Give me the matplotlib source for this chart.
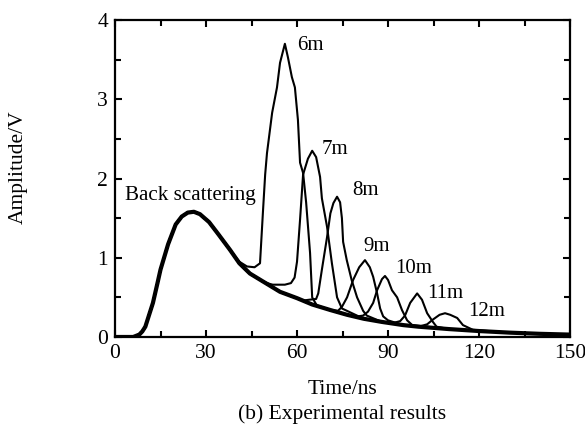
import numpy as np
import matplotlib.pyplot as plt
from matplotlib.ticker import MultipleLocator

plt.rcParams['font.family'] = ['Liberation Serif', 'DejaVu Serif']
plt.rcParams['mathtext.fontset'] = 'stix'

# curva de retrodispersion (comun a todas las trazas)
bg_t = [0, 6, 8, 9, 10, 11, 12.5, 14, 15, 17.5, 20, 22, 24, 26, 28, 31, 34, 37.9, 41, 44.5,
        48.8, 54.4, 60, 65, 71, 76.5, 82, 88, 95, 100, 110, 120, 130, 140, 150]
bg_v = [0, 0, 0.03, 0.07, 0.13, 0.25, 0.43, 0.68, 0.85, 1.17, 1.42, 1.52, 1.57, 1.58, 1.55,
        1.45, 1.30, 1.10, 0.93, 0.80, 0.70, 0.57, 0.49, 0.41, 0.34, 0.28, 0.23, 0.19, 0.15,
        0.13, 0.10, 0.075, 0.055, 0.04, 0.03]

# tramo de cada pico (distancia del blanco)
etiquetas = ['6m', '7m', '8m', '9m', '10m', '11m', '12m']
picos_t = [
    [41, 43.5, 46, 47.8, 48.8, 49.5, 50.1, 51.8, 53.4, 54.4, 56.0, 57.0, 58.3, 59.3, 60.3,
     61.0, 62.0, 63.0, 64.3, 65.0, 66.5],
    [51, 52, 56, 58, 59.2, 60, 61, 62, 63.6, 65.0, 66.3, 67.6, 68.2, 69.9, 71.5, 73.2, 74.8],
    [62, 64, 66.3, 67, 68.2, 69.9, 71, 72, 73.2, 74.2, 74.8, 75.2, 76.4, 78, 79.8, 81.8, 83],
    [73.5, 74.8, 76.5, 78.5, 80.5, 82.4, 84, 85.1, 86.4, 87.4, 88.4, 90],
    [80, 81.8, 83.4, 85.1, 86.4, 88, 89, 90, 91.3, 93, 94.6, 96.3, 98],
    [92, 94, 95.6, 97.3, 99.6, 101.2, 102.9, 104.8, 106],
    [101, 102.9, 104.8, 107, 108.8, 110.5, 112.8, 114.7, 118],
]
picos_v = [
    [0.95, 0.89, 0.88, 0.93, 1.6, 2.05, 2.32, 2.83, 3.15, 3.46, 3.70, 3.53, 3.28, 3.15, 2.74,
     2.2, 2.07, 1.7, 1.06, 0.5, 0.40],
    [0.67, 0.66, 0.66, 0.68, 0.75, 0.95, 1.48, 2.05, 2.25, 2.35, 2.27, 2.02, 1.75, 1.39, 0.93,
     0.5, 0.36],
    [0.46, 0.47, 0.48, 0.55, 0.85, 1.26, 1.56, 1.69, 1.77, 1.70, 1.5, 1.2, 0.97, 0.72, 0.5,
     0.33, 0.27],
    [0.33, 0.38, 0.5, 0.72, 0.88, 0.97, 0.88, 0.76, 0.55, 0.36, 0.26, 0.21],
    [0.26, 0.27, 0.32, 0.43, 0.59, 0.73, 0.77, 0.72, 0.59, 0.50, 0.34, 0.21, 0.15],
    [0.18, 0.20, 0.27, 0.43, 0.55, 0.47, 0.30, 0.19, 0.13],
    [0.14, 0.16, 0.22, 0.28, 0.30, 0.28, 0.24, 0.15, 0.09],
]
etiq_t = [60, 68.2, 78.1, 81.8, 92.3, 102.9, 116.4]
etiq_v = [3.68, 2.36, 1.85, 1.14, 0.87, 0.55, 0.32]

fig = plt.figure(figsize=(5.85, 4.25), dpi=100)
ax = fig.add_axes([0.1966, 0.2071, 0.7778, 0.7458])

ax.plot(bg_t, bg_v, color='black', lw=3.0, solid_capstyle='round')
for pt, pv in zip(picos_t, picos_v):
    antes = [i for i in range(len(bg_t)) if bg_t[i] < pt[0]]
    despues = [i for i in range(len(bg_t)) if bg_t[i] > pt[-1] + 2]
    t = [bg_t[i] for i in antes] + pt + [bg_t[i] for i in despues]
    v = [bg_v[i] for i in antes] + pv + [bg_v[i] for i in despues]
    ax.plot(t, v, color='black', lw=1.5)

for lab, x, y in zip(etiquetas, etiq_t, etiq_v):
    ax.text(x, y, lab, fontsize=15, ha='left', va='center')
ax.text(3.3, 1.78, 'Back scattering', fontsize=15.2, ha='left', va='center')

ax.set_xlim(0, 150)
ax.set_ylim(0, 4)
ax.xaxis.set_major_locator(MultipleLocator(30))
ax.xaxis.set_minor_locator(MultipleLocator(15))
ax.yaxis.set_major_locator(MultipleLocator(1))
ax.yaxis.set_minor_locator(MultipleLocator(0.5))
ax.tick_params(which='both', direction='in', top=True, right=True, width=1.5, labelsize=15.5)
ax.tick_params(which='major', length=5, pad=5)
ax.tick_params(which='minor', length=4)
for s in ax.spines.values():
    s.set_linewidth(1.6)

ax.set_xlabel('Time/ns', fontsize=15.5, labelpad=12)
ax.set_ylabel('Amplitude/V', fontsize=15.5)
ax.yaxis.set_label_coords(-0.191, 0.536)
fig.text(0.585, 0.003, '(b) Experimental results', fontsize=15.5, ha='center', va='bottom')

fig.savefig('out.png', dpi=100)
